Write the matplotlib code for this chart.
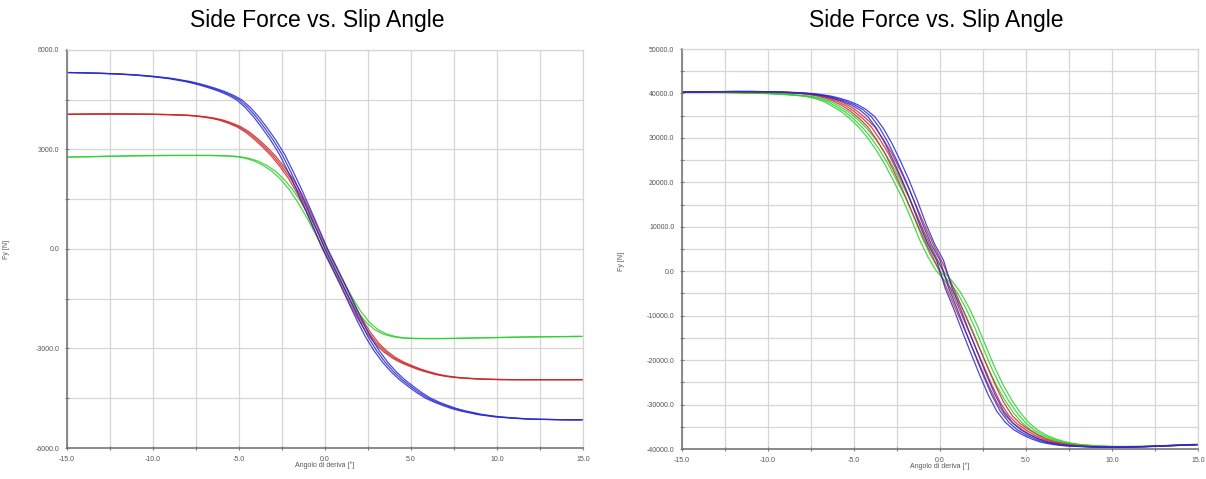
import matplotlib
matplotlib.use("Agg")
import matplotlib.pyplot as plt
from matplotlib.ticker import MultipleLocator, FormatStrFormatter

# slip angle grid (deg)
slip = ([-15, -14, -13, -12, -11, -10, -9]
        + [-8, -7.5, -7, -6.5, -6, -5.5, -5, -4.5, -4, -3.5, -3, -2.5, -2, -1.5, -1, -0.5, 0,
           0.5, 1, 1.5, 2, 2.5, 3, 3.5, 4, 4.5, 5, 5.5, 6, 6.5, 7, 7.5, 8]
        + [9, 10, 11, 12, 13, 14, 15])

# left chart: side force [N]
left_blue = ([5320, 5310, 5295, 5275, 5245, 5200, 5140]
             + [5050, 4990, 4920, 4840, 4750, 4640, 4500, 4270, 3980, 3640, 3270, 2850, 2330, 1780, 1200, 600, 0,
                -520, -1050, -1600, -2150, -2650, -3070, -3420, -3710, -3950, -4150, -4340, -4500, -4620, -4720, -4810, -4880]
             + [-4990, -5060, -5100, -5130, -5140, -5150, -5150])
left_red = ([4060, 4065, 4070, 4070, 4065, 4060, 4050]
            + [4030, 4010, 3980, 3940, 3880, 3790, 3680, 3520, 3310, 3070, 2800, 2480, 2120, 1680, 1150, 580, 0,
               -530, -1050, -1580, -2080, -2500, -2840, -3090, -3280, -3420, -3530, -3630, -3710, -3780, -3830, -3865, -3890]
            + [-3920, -3935, -3940, -3940, -3940, -3940, -3940])
left_green = ([2770, 2780, 2790, 2800, 2810, 2815, 2820]
              + [2820, 2820, 2820, 2818, 2810, 2800, 2780, 2730, 2650, 2520, 2350, 2110, 1800, 1420, 980, 500, 0,
                 -500, -1000, -1480, -1900, -2220, -2440, -2570, -2640, -2680, -2695, -2700, -2700, -2700, -2700, -2695, -2690]
              + [-2680, -2670, -2660, -2650, -2645, -2640, -2635])

# right chart: side force [N]
right_blue = ([40300, 40350, 40400, 40450, 40450, 40400, 40300]
              + [40100, 39950, 39700, 39380, 38900, 38300, 37500, 36400, 34800, 32200, 28800, 24800, 20500, 15700, 10500, 6000, 2500,
                 -3800, -8500, -13600, -18500, -23300, -27800, -31500, -34000, -35700, -36800, -37700, -38400, -38800, -39100, -39300, -39400]
              + [-39550, -39600, -39550, -39450, -39300, -39150, -39000])
right_red = ([40300, 40350, 40400, 40400, 40350, 40300, 40200]
             + [40000, 39800, 39500, 39000, 38300, 37300, 36000, 34400, 32500, 29700, 26500, 22600, 18500, 14000, 9500, 5300, 1500,
                -3000, -7500, -12000, -16500, -21000, -25500, -29500, -32500, -34400, -35700, -36900, -37800, -38400, -38800, -39100, -39300]
             + [-39500, -39600, -39550, -39450, -39300, -39150, -39000])
right_green = ([40300, 40300, 40250, 40200, 40100, 40000, 39800]
               + [39500, 39250, 38800, 38100, 37000, 35800, 34200, 32300, 30000, 27200, 24000, 20300, 16500, 12000, 7200, 3200, 0,
                  -2200, -4800, -8300, -12500, -17200, -21800, -25800, -29200, -32000, -34200, -35800, -36900, -37700, -38300, -38700, -39000]
               + [-39300, -39450, -39450, -39400, -39250, -39100, -38950])

# horizontal offsets between repeated runs (deg)
left_runs = {"blue": [-0.15, 0.0, 0.15], "red": [-0.12, 0.0, 0.12], "green": [-0.1, 0.1]}
right_runs = {"blue": [-0.2, 0.0, 0.2], "red": [-0.2, 0.0, 0.2], "green": [-0.2, 0.0, 0.2]}

colors = {"blue": "#2a2ad0", "red": "#cc2a2a", "green": "#2ad02a"}

plt.rcParams["font.family"] = ["Liberation Sans", "DejaVu Sans"]

fig = plt.figure(figsize=(12.06, 4.79), dpi=100)
ax1 = fig.add_axes([0.0556, 0.0647, 0.4279, 0.831])
ax2 = fig.add_axes([0.5655, 0.0626, 0.4279, 0.835])


def style(ax, ylim, ymajor, yminor):
    ax.set_xlim(-15, 15)
    ax.set_ylim(*ylim)
    ax.xaxis.set_major_locator(MultipleLocator(5))
    ax.xaxis.set_minor_locator(MultipleLocator(2.5))
    ax.yaxis.set_major_locator(MultipleLocator(ymajor))
    ax.yaxis.set_minor_locator(MultipleLocator(yminor))
    ax.xaxis.set_major_formatter(FormatStrFormatter("%.1f"))
    ax.yaxis.set_major_formatter(FormatStrFormatter("%.1f"))
    ax.grid(True, which="both", color="#d6d6d6", lw=0.9)
    ax.set_axisbelow(True)
    ax.tick_params(which="both", direction="inout", length=3, width=0.8,
                   color="#777777", labelsize=5, labelcolor="#555555", pad=4)
    for s in ["left", "bottom"]:
        ax.spines[s].set_color("#777777")
        ax.spines[s].set_linewidth(1.2)
    for s in ["top", "right"]:
        ax.spines[s].set_color("#d6d6d6")
        ax.spines[s].set_linewidth(0.9)
    ax.set_xlabel("Angolo di deriva [°]", fontsize=5, color="#555555", labelpad=-1)
    ax.set_ylabel("Fy [N]", fontsize=5, color="#555555")


def draw(ax, data, runs):
    for name, fy in data:
        for dx in runs[name]:
            ax.plot([s + dx for s in slip], fy, color=colors[name], lw=0.9, alpha=0.85)


draw(ax1, [("green", left_green), ("red", left_red), ("blue", left_blue)], left_runs)
style(ax1, (-6000, 6000), 3000, 1500)
ax1.yaxis.set_label_coords(-0.11, 0.5)

draw(ax2, [("green", right_green), ("red", right_red), ("blue", right_blue)], right_runs)
style(ax2, (-40000, 50000), 10000, 5000)
ax2.yaxis.set_label_coords(-0.11, 0.47)

# titles sit close to the top edge in the original
fig.text(0.263, 0.958, "Side Force vs. Slip Angle", fontsize=16.5, ha="center", va="center")
fig.text(0.776, 0.958, "Side Force vs. Slip Angle", fontsize=16.5, ha="center", va="center")

fig.savefig("out.png", dpi=100)
